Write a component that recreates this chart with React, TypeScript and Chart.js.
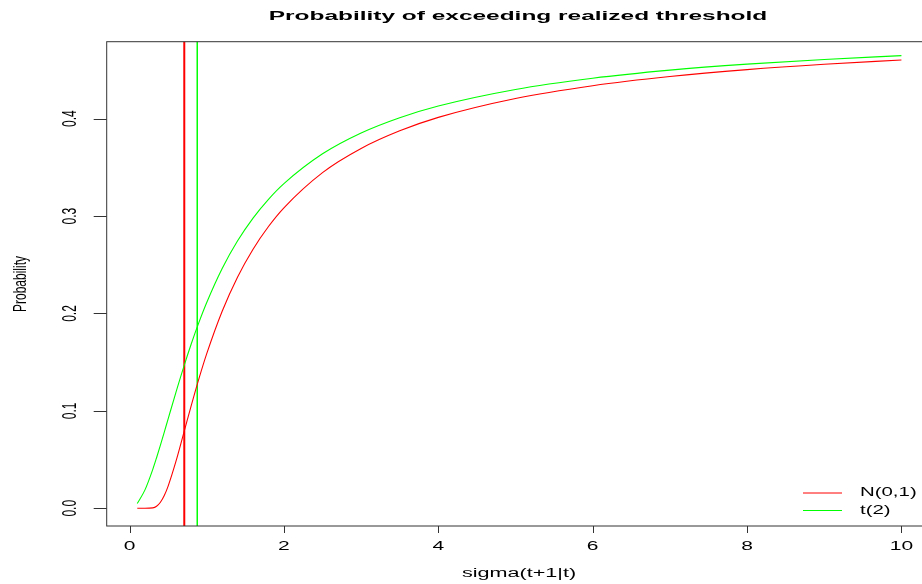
import React, { useEffect, useRef } from "react";
import { Chart, registerables } from "chart.js";

Chart.register(...registerables);

// ---- data ----
const sigma = [0.1, 0.2, 0.3, 0.35, 0.4, 0.45, 0.5, 0.6, 0.7, 0.8, 0.9, 1.0, 1.2, 1.4, 1.6, 1.8, 2.0, 2.5, 3.0, 3.5, 4.0, 5.0, 6.0, 7.0, 8.0, 9.0, 10.0];
const probNormal = [0.0, 0.0, 0.0004, 0.0021, 0.0062, 0.0131, 0.0228, 0.0478, 0.0766, 0.1056, 0.1333, 0.1587, 0.2023, 0.2375, 0.266, 0.2893, 0.3085, 0.3446, 0.3694, 0.3875, 0.4013, 0.4207, 0.4338, 0.4432, 0.4503, 0.4558, 0.4602];
const probT2 = [0.0049, 0.0189, 0.0397, 0.0519, 0.0648, 0.0782, 0.0918, 0.1188, 0.1447, 0.1689, 0.1911, 0.2113, 0.2462, 0.2746, 0.2979, 0.3172, 0.3333, 0.3639, 0.3853, 0.401, 0.413, 0.43, 0.4415, 0.4498, 0.456, 0.4608, 0.4647];
const thresholdNormal = 0.709;
const thresholdT2 = 0.877;
const xTicks = [0, 2, 4, 6, 8, 10];
const yTicks = [0.0, 0.1, 0.2, 0.3, 0.4];
const yTickLabels = ["0.0", "0.1", "0.2", "0.3", "0.4"];
const seriesNames = ["N(0,1)", "t(2)"];
const seriesColors = ["#ff0000", "#00ff00"];
const titleText = "Probability of exceeding realized threshold";
const xTitle = "sigma(t+1|t)";
const yTitle = "Probability";

const FONT = "'Liberation Sans', Arial, Helvetica, sans-serif";

function drawText(
  ctx: CanvasRenderingContext2D,
  text: string,
  x: number,
  y: number,
  font: string,
  sx: number,
  rotate: boolean,
  align: CanvasTextAlign = "center"
) {
  ctx.save();
  ctx.translate(x, y);
  ctx.scale(sx, 1);
  if (rotate) ctx.rotate(-Math.PI / 2);
  ctx.font = font;
  ctx.fillStyle = "#000";
  ctx.textAlign = align;
  ctx.textBaseline = "middle";
  ctx.fillText(text, 0, 0);
  ctx.restore();
}

const rDecor = {
  id: "rDecor",
  afterDraw(chart: any) {
    const ctx: CanvasRenderingContext2D = chart.ctx;
    const a = chart.chartArea;
    const xs = chart.scales.x;
    const ys = chart.scales.y;
    ctx.save();
    // box
    ctx.strokeStyle = "#333";
    ctx.lineWidth = 1;
    ctx.strokeRect(a.left, a.top, a.right - a.left, a.bottom - a.top);
    // x ticks
    ctx.beginPath();
    xTicks.forEach((t) => {
      const px = Math.round(xs.getPixelForValue(t)) + 0.5;
      ctx.moveTo(px, a.bottom);
      ctx.lineTo(px, a.bottom + 7);
    });
    // y ticks
    yTicks.forEach((t) => {
      const py = Math.round(ys.getPixelForValue(t)) + 0.5;
      ctx.moveTo(a.left, py);
      ctx.lineTo(a.left - 13, py);
    });
    ctx.stroke();
    ctx.restore();

    const axisFont = `12px ${FONT}`;
    xTicks.forEach((t) => {
      drawText(ctx, String(t), xs.getPixelForValue(t), 547, axisFont, 1.75, false);
    });
    yTicks.forEach((t, i) => {
      drawText(ctx, yTickLabels[i], 70, ys.getPixelForValue(t), axisFont, 1.75, true);
    });
    drawText(ctx, xTitle, 519, 574, axisFont, 1.8, false);
    drawText(ctx, yTitle, 21, 284, axisFont, 1.6, true);
    drawText(ctx, titleText, 518, 16, `bold 13px ${FONT}`, 1.88, false);

    // legend
    const legY = [493, 510.5];
    seriesNames.forEach((name, i) => {
      ctx.save();
      ctx.strokeStyle = seriesColors[i];
      ctx.lineWidth = 1;
      ctx.beginPath();
      ctx.moveTo(803, legY[i]);
      ctx.lineTo(842, legY[i]);
      ctx.stroke();
      ctx.restore();
      drawText(ctx, name, 860, legY[i], axisFont, 1.7, false, "left");
    });
  },
};

export default function App() {
  const ref = useRef<HTMLCanvasElement | null>(null);
  useEffect(() => {
    if (!ref.current) return;
    const normalPts = sigma.map((s, i) => ({ x: s, y: probNormal[i] }));
    const tPts = sigma.map((s, i) => ({ x: s, y: probT2[i] }));
    const chart = new Chart(ref.current, {
      type: "line",
      data: {
        datasets: [
          {
            label: seriesNames[0],
            data: normalPts,
            borderColor: seriesColors[0],
            borderWidth: 1.1,
            pointRadius: 0,
            cubicInterpolationMode: "monotone",
            fill: false,
          },
          {
            label: seriesNames[1],
            data: tPts,
            borderColor: seriesColors[1],
            borderWidth: 1.1,
            pointRadius: 0,
            cubicInterpolationMode: "monotone",
            fill: false,
          },
          {
            label: "thrN",
            data: [
              { x: thresholdNormal, y: -1 },
              { x: thresholdNormal, y: 1 },
            ],
            borderColor: seriesColors[0],
            borderWidth: 2,
            pointRadius: 0,
            fill: false,
          },
          {
            label: "thrT",
            data: [
              { x: thresholdT2, y: -1 },
              { x: thresholdT2, y: 1 },
            ],
            borderColor: seriesColors[1],
            borderWidth: 1.5,
            pointRadius: 0,
            fill: false,
          },
        ],
      },
      options: {
        animation: false,
        responsive: false,
        devicePixelRatio: 1,
        layout: { padding: { left: 106.7, top: 41.7, right: 8, bottom: 58 } },
        plugins: { legend: { display: false }, tooltip: { enabled: false }, title: { display: false } },
        scales: {
          x: { type: "linear", min: -0.296, max: 10.396, display: false },
          y: { type: "linear", min: -0.0182, max: 0.479, display: false },
        },
      },
      plugins: [rDecor],
    } as any);
    return () => chart.destroy();
  }, []);
  return (
    <div style={{ position: "fixed", left: 0, top: 0, width: 922, height: 584, overflow: "hidden", background: "#fff" }}>
      <canvas ref={ref} width={940} height={584} style={{ width: 940, height: 584, display: "block" }} />
    </div>
  );
}
